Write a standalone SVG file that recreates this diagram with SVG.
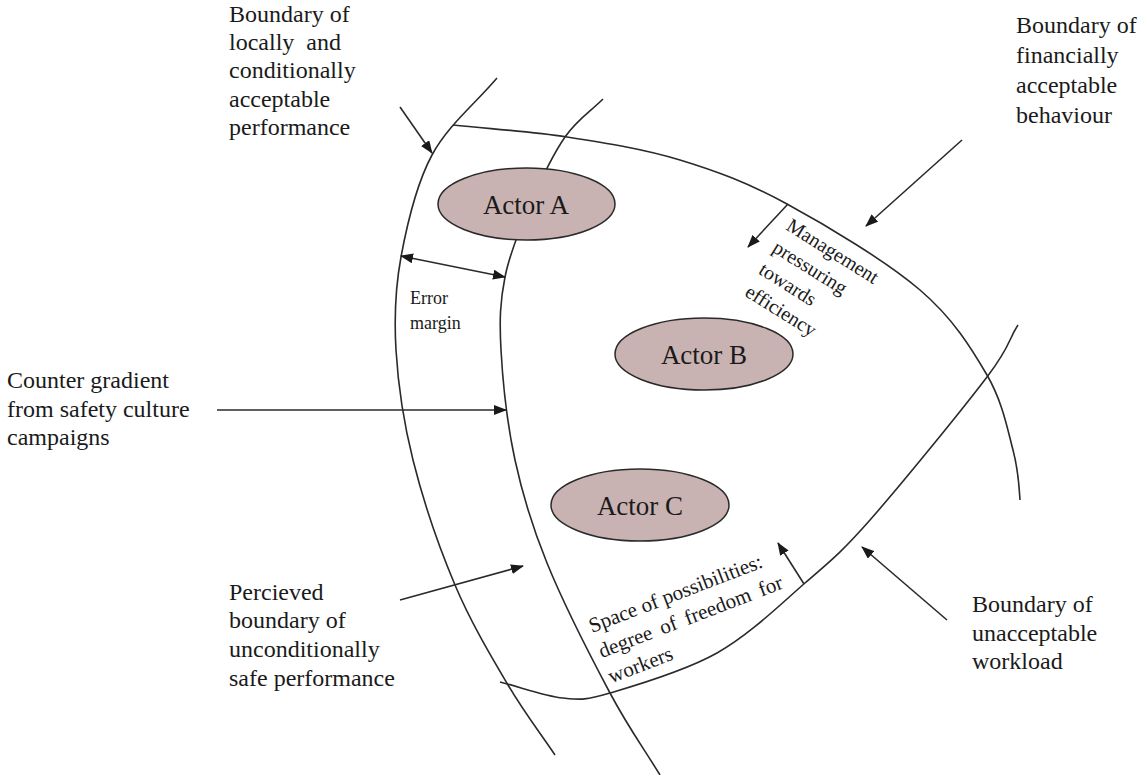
<svg xmlns="http://www.w3.org/2000/svg" width="1139" height="775" viewBox="0 0 1139 775">
  <defs>
    <marker id="head" viewBox="0 0 13 10" refX="12" refY="5" markerWidth="13" markerHeight="10" markerUnits="userSpaceOnUse" orient="auto-start-reverse">
      <path d="M0,0 L13,5 L0,10 z" fill="#1a1a1a"/>
    </marker>
    <style>
      .bound { fill: none; stroke: #2a2a2a; stroke-width: 1.6; }
      .arrow { fill: none; stroke: #2a2a2a; stroke-width: 1.6; marker-end: url(#head); }
      text { font-family: 'Liberation Serif', 'DejaVu Serif', serif; fill: #1a1a1a; }
      .label { font-size: 24px; }
      .small { font-size: 18px; }
      .rot { font-size: 20px; }
      .rot-lg { font-size: 21px; }
      .actor { fill: #c9b3b2; stroke: #2a2a2a; stroke-width: 1.5; }
      .actor-text { font-size: 27px; text-anchor: middle; }
    </style>
  </defs>
  <rect width="1139" height="775" fill="#ffffff"/>

  <!-- boundary curves -->
  <g id="boundaries">
    <!-- boundary of locally and conditionally acceptable performance -->
    <path class="bound" d="M497,78 C475.3,103.7 448,125.2 432,155 C416,184.8 407,224.5 401,257 C395,289.5 394,316.2 396,350 C398,383.8 403.2,420.8 413,460 C422.8,499.2 439.2,547.5 455,585 C470.8,622.5 491.3,656.7 508,685 C524.7,713.3 539.3,731.7 555,755"/>
    <!-- perceived boundary of unconditionally safe performance -->
    <path class="bound" d="M603,99 C590.3,111.7 577.2,119.3 565,137 C552.8,154.7 540,181.7 530,205 C520,228.3 509.8,252.8 505,277 C500.2,301.2 499.3,319.5 501,350 C502.7,380.5 507.3,424.5 515,460 C522.7,495.5 531.2,524.2 547,563 C562.8,601.8 591.2,657.7 610,693 C628.8,728.3 643.3,747.7 660,775"/>
    <!-- boundary of financially acceptable behaviour -->
    <path class="bound" d="M453,125 C491,129 529.2,131.2 567,137 C604.8,142.8 643.3,148.8 680,160 C716.7,171.2 747,182.3 787,204 C827,225.7 886.7,261.5 920,290 C953.3,318.5 971.5,348.3 987,375 C1002.5,401.7 1007.5,429.2 1013,450 C1018.5,470.8 1019,485 1020,500"/>
    <!-- boundary of unacceptable workload -->
    <path class="bound" d="M500,682 C521,687.3 544.7,696.2 563,698 C581.3,699.8 584.3,700.5 610,693 C635.7,685.5 684.5,671.3 717,653 C749.5,634.7 779.5,605.2 805,583 C830.5,560.8 839.7,554.3 870,520 C900.3,485.7 962.3,409.5 987,377 C1011.7,344.5 1008,340 1018,325"/>
  </g>

  <!-- connectors -->
  <g id="connectors">
    <line class="arrow" x1="400" y1="107" x2="432" y2="153"/>
    <line class="arrow" x1="401" y1="256" x2="505" y2="277" marker-start="url(#head)"/>
    <line class="arrow" x1="788" y1="204" x2="748" y2="247"/>
    <line class="arrow" x1="962" y1="140" x2="866" y2="226"/>
    <line class="arrow" x1="217" y1="410" x2="506" y2="410"/>
    <line class="arrow" x1="400" y1="600" x2="523" y2="566"/>
    <line class="arrow" x1="804" y1="584" x2="778" y2="543"/>
    <line class="arrow" x1="947" y1="620" x2="862" y2="547"/>
  </g>

  <!-- actors -->
  <g id="actor-a">
    <ellipse class="actor" cx="526.5" cy="204" rx="88.5" ry="36"/>
    <text class="actor-text" x="526" y="214">Actor A</text>
  </g>
  <g id="actor-b">
    <ellipse class="actor" cx="704" cy="354" rx="89" ry="36"/>
    <text class="actor-text" x="704" y="364">Actor B</text>
  </g>
  <g id="actor-c">
    <ellipse class="actor" cx="640" cy="505" rx="89" ry="36"/>
    <text class="actor-text" x="640" y="515">Actor C</text>
  </g>

  <!-- boundary labels -->
  <g id="label-local">
    <text class="label" x="229" y="22">Boundary of</text>
    <text class="label" x="229" y="50" word-spacing="6">locally and</text>
    <text class="label" x="229" y="78">conditionally</text>
    <text class="label" x="229" y="107">acceptable</text>
    <text class="label" x="229" y="135">performance</text>
  </g>
  <g id="label-financial">
    <text class="label" x="1016" y="33">Boundary of</text>
    <text class="label" x="1016" y="63">financially</text>
    <text class="label" x="1016" y="93">acceptable</text>
    <text class="label" x="1016" y="123">behaviour</text>
  </g>
  <g id="label-counter">
    <text class="label" x="7" y="388">Counter gradient</text>
    <text class="label" x="7" y="417">from safety culture</text>
    <text class="label" x="7" y="445">campaigns</text>
  </g>
  <g id="label-perceived">
    <text class="label" x="229" y="600">Percieved</text>
    <text class="label" x="229" y="628">boundary of</text>
    <text class="label" x="229" y="657">unconditionally</text>
    <text class="label" x="229" y="686">safe performance</text>
  </g>
  <g id="label-workload">
    <text class="label" x="972" y="612">Boundary of</text>
    <text class="label" x="972" y="641">unacceptable</text>
    <text class="label" x="972" y="669">workload</text>
  </g>
  <g id="label-error">
    <text class="small" x="410" y="304">Error</text>
    <text class="small" x="410" y="329">margin</text>
  </g>
  <g id="label-management" transform="translate(785,229) rotate(32)">
    <text class="rot" x="0" y="0">Management</text>
    <text class="rot" x="0" y="26">pressuring</text>
    <text class="rot" x="0" y="52">towards</text>
    <text class="rot" x="0" y="78">efficiency</text>
  </g>
  <g id="label-space" transform="translate(592,633) rotate(-21)">
    <text class="rot-lg" x="0" y="0">Space of possibilities:</text>
    <text class="rot-lg" x="0" y="27" word-spacing="4">degree of freedom for</text>
    <text class="rot-lg" x="0" y="54">workers</text>
  </g>
</svg>
